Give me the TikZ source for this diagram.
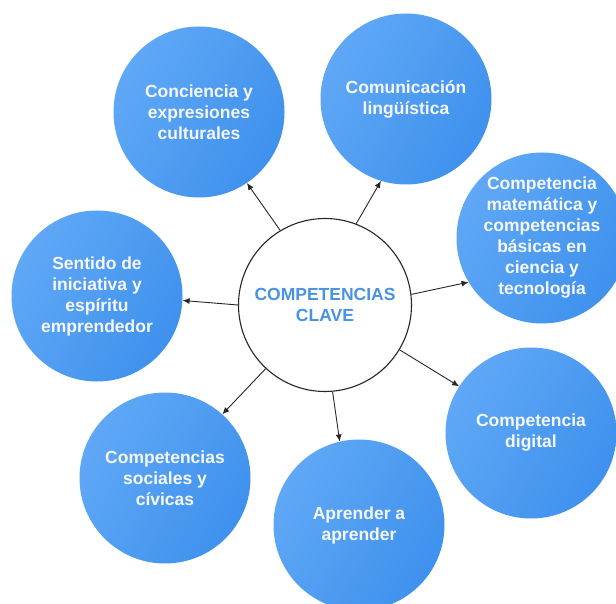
\documentclass[tikz,border=0pt]{standalone}
\usepackage{fontspec}
\setmainfont{Liberation Sans}
\usetikzlibrary{arrows.meta}
\definecolor{bluelight}{RGB}{96,168,246}
\definecolor{bluedark}{RGB}{62,145,237}
\definecolor{centertext}{RGB}{74,146,228}
\definecolor{textwhite}{RGB}{246,248,252}
\tikzset{
  comp/.style={circle, minimum size=171pt, inner sep=0pt, left color=bluelight, right color=bluedark,
    shading angle=60, text=textwhite, font=\bfseries\fontsize{17.5}{21}\selectfont, align=center},
  hub/.style={circle, draw=black!85, line width=1.1pt, fill=white, minimum size=173pt, inner sep=0pt,
    text=centertext, font=\bfseries\fontsize{17.5}{21}\selectfont, align=center},
  link/.style={-{Latex[length=7pt,width=6pt]}, line width=0.9pt, draw=black!85}
}
\begin{document}
\begin{tikzpicture}[x=1pt,y=-1pt]
\useasboundingbox (0,0) rectangle (616,604);
\fill[white] (0,0) rectangle (616,604);
\node[comp] (cult) at (199,112) {Conciencia y\\expresiones\\culturales};
\node[comp] (comu) at (406,99) {Comunicación\\lingüística};
\node[comp] (mate) at (542,238) {Competencia\\matemática y\\competencias\\básicas en\\ciencia y\\tecnología};
\node[comp] (digi) at (531,433) {Competencia\\digital};
\node[comp] (apre) at (359,525) {Aprender a\\aprender};
\node[comp] (soci) at (165,478) {Competencias\\sociales y\\cívicas};
\node[comp] (sent) at (97,296) {Sentido de\\iniciativa y\\espíritu\\emprendedor};
\node[hub] (hub) at (325,305) {COMPETENCIAS\\CLAVE};
\draw[link] (hub.121) -- (cult.304);
\draw[link] (hub.69) -- (comu.253);
\draw[link] (hub.7) -- (mate.211);
\draw[link] (hub.-31) -- (digi.147);
\draw[link] (hub.275) -- (apre.103);
\draw[link] (hub.227) -- (soci.48);
\draw[link] (hub.180) -- (sent.357);
\end{tikzpicture}
\end{document}
